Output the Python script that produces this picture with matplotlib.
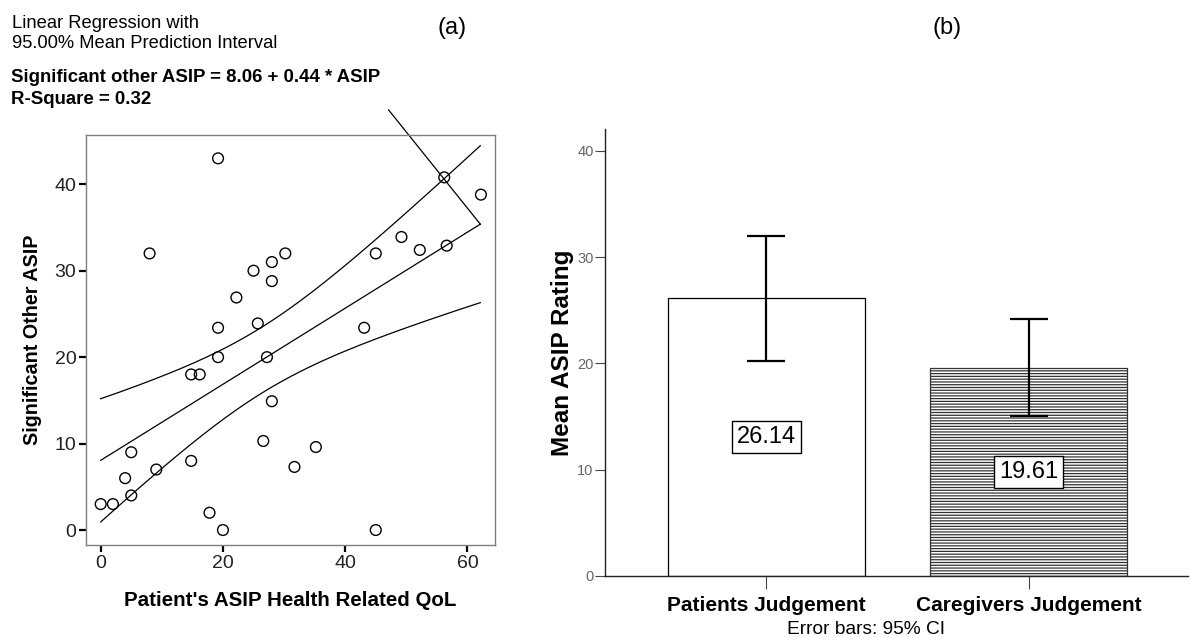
import numpy as np
import matplotlib
matplotlib.use("Agg")
import matplotlib.pyplot as plt

plt.rcParams['font.family'] = ['Liberation Sans', 'DejaVu Sans']
plt.rcParams['hatch.linewidth'] = 0.9

# ---------------- data: panel (a) scatter ----------------
patient_asip = [19.2, 8.0, 56.2, 62.2, 45.0, 49.2, 52.2, 56.6, 25.0, 28.0,
                28.0, 30.2, 22.2, 19.2, 25.7, 43.1, 19.2, 27.2, 14.8, 16.2,
                28.0, 26.6, 35.2, 31.7, 14.8, 9.1, 5.0, 4.0, 5.0, 0.0,
                2.0, 17.8, 20.0, 45.0]
other_asip = [43.0, 32.0, 40.8, 38.8, 32.0, 33.9, 32.4, 32.9, 30.0, 31.0,
              28.8, 32.0, 26.9, 23.4, 23.9, 23.4, 20.0, 20.0, 18.0, 18.0,
              14.9, 10.3, 9.6, 7.3, 8.0, 7.0, 9.0, 6.0, 4.0, 3.0,
              3.0, 2.0, 0.0, 0.0]
intercept = 8.06
slope = 0.44
t_crit = 2.037  # t(0.975, df=32)
fit_range = [0.0, 62.1]
leader_start = [47.1, 48.6]

# ---------------- data: panel (b) bars ----------------
groups = ["Patients Judgement", "Caregivers Judgement"]
means = [26.14, 19.61]
ci_low = [20.26, 15.06]
ci_high = [31.97, 24.16]
mean_labels = ["26.14", "19.61"]

fig = plt.figure(figsize=(11.93, 6.38), dpi=100)

# ================= panel (a) =================
ax = fig.add_axes([0.0721, 0.1458, 0.3428, 0.6426])
x = np.array(patient_asip)
y = np.array(other_asip)
n = len(x)
pred = intercept + slope * x
s = np.sqrt(np.sum((y - pred) ** 2) / (n - 2))
xbar = x.mean()
sxx = np.sum((x - xbar) ** 2)
xs = np.linspace(fit_range[0], fit_range[1], 200)
ys = intercept + slope * xs
half = t_crit * s * np.sqrt(1.0 / n + (xs - xbar) ** 2 / sxx)

ax.plot(xs, ys, color='black', lw=0.9)
ax.plot(xs, ys + half, color='black', lw=0.9)
ax.plot(xs, ys - half, color='black', lw=0.9)
ax.scatter(x, y, s=60, facecolors='none', edgecolors='black', linewidths=1.0, zorder=3)
# label leader line (SPSS artefact)
ax.plot([leader_start[0], fit_range[1]], [leader_start[1], intercept + slope * fit_range[1]],
        color='black', lw=0.9, clip_on=False)

ax.set_xlim(-2.4, 64.5)
ax.set_ylim(-1.73, 45.7)
ax.set_xticks([0, 20, 40, 60])
ax.set_yticks([0, 10, 20, 30, 40])
for sp in ax.spines.values():
    sp.set_color('#7f7f7f')
    sp.set_linewidth(1.0)
ax.tick_params(axis='both', direction='out', length=5, width=1.6, color='black',
               labelsize=14, labelcolor='#222222', pad=2)
ax.set_xlabel("Patient's ASIP Health Related QoL", fontsize=14.8, fontweight='bold', labelpad=14)
ax.set_ylabel("Significant Other ASIP", fontsize=14.2, fontweight='bold', labelpad=9)

fig.text(12 / 1193, 1 - 23 / 638, "Linear Regression with", fontsize=13.2, va='center', ha='left')
fig.text(12 / 1193, 1 - 44 / 638, "95.00% Mean Prediction Interval", fontsize=13.2, va='center', ha='left')
fig.text(11 / 1193, 1 - 78 / 638, "Significant other ASIP = 8.06 + 0.44 * ASIP", fontsize=13.4,
         fontweight='bold', va='center', ha='left')
fig.text(11 / 1193, 1 - 100 / 638, "R-Square = 0.32", fontsize=13.4, fontweight='bold',
         va='center', ha='left')
fig.text(452 / 1193, 1 - 28 / 638, "(a)", fontsize=17, ha='center', va='center')
fig.text(947 / 1193, 1 - 28 / 638, "(b)", fontsize=17, ha='center', va='center')

# ================= panel (b) =================
bx = fig.add_axes([0.5074, 0.0972, 0.4884, 0.7006])
pos = np.arange(len(groups))
m = np.array(means)
err = np.vstack([m - np.array(ci_low), np.array(ci_high) - m])
bx.bar(pos[0], m[0], width=0.75, color='white', edgecolor='black', linewidth=0.9, zorder=2)
bx.bar(pos[1], m[1], width=0.75, color='white', edgecolor='#333333', linewidth=0.9,
       hatch='------', zorder=2)
bx.errorbar(pos, m, yerr=err, fmt='none', ecolor='black', elinewidth=1.6, capsize=14,
            capthick=1.6, zorder=3)
for p, v, lab in zip(pos, m, mean_labels):
    bx.text(p, v / 2, lab, fontsize=17, ha='center', va='center', zorder=4,
            bbox=dict(boxstyle='square,pad=0.2', facecolor='white', edgecolor='black', linewidth=1.0))

bx.set_xlim(-0.614, 1.607)
bx.set_ylim(0, 42.07)
bx.set_yticks([0, 10, 20, 30, 40])
bx.set_xticks(pos)
bx.set_xticklabels(groups, fontsize=15, fontweight='bold')
bx.spines['top'].set_visible(False)
bx.spines['right'].set_visible(False)
for sp in ['left', 'bottom']:
    bx.spines[sp].set_color('#222222')
    bx.spines[sp].set_linewidth(1.0)
bx.tick_params(axis='y', direction='out', length=7.5, width=0.8, color='#444444',
               labelsize=10.5, labelcolor='#666666', pad=1)
bx.tick_params(axis='x', direction='out', length=9.5, width=0.8, color='#444444', pad=5)
bx.set_ylabel("Mean ASIP Rating", fontsize=17.5, fontweight='bold', labelpad=2)

fig.text(866 / 1193, 1 - 629 / 638, "Error bars: 95% CI", fontsize=13.8, ha='center', va='center')

fig.savefig("out.png", dpi=100)
